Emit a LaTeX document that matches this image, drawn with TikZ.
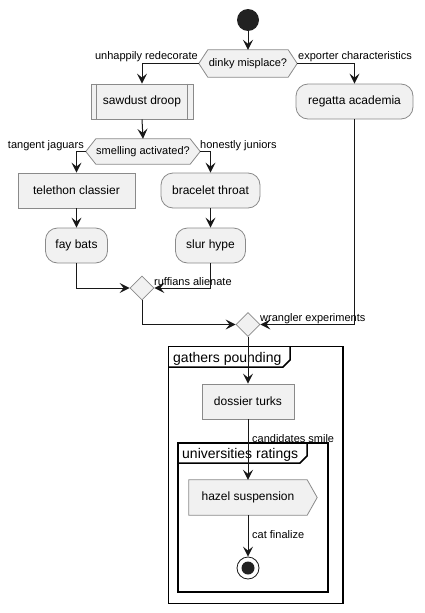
\documentclass[tikz,border=0pt]{standalone}
\usepackage{fontspec}
\setmainfont{Liberation Sans}
\usetikzlibrary{arrows.meta,shapes.geometric,calc}
\definecolor{fillc}{HTML}{F1F1F1}
\definecolor{linec}{HTML}{181818}
\definecolor{borderc}{HTML}{8A8A8A}
\definecolor{dotc}{HTML}{222222}
\tikzset{
  box/.style={draw=borderc, fill=fillc, line width=0.8pt, minimum height=35pt, inner sep=0pt, font=\fontsize{12}{14}\selectfont},
  act/.style={box, rounded corners=12pt},
  shapeline/.style={draw=borderc, fill=fillc, line width=0.8pt},
  hexnode/.style={inner sep=0pt, font=\fontsize{11}{13}\selectfont},
  merge/.style={diamond, draw=borderc, fill=fillc, line width=0.8pt, inner sep=0pt, minimum size=24pt, aspect=1},
  conn/.style={draw=linec, line width=1pt, -{Stealth[length=10pt,width=10pt,inset=4pt]}},
  lbl/.style={inner sep=0pt, font=\fontsize{11}{13}\selectfont},
  frame/.style={draw=black, line width=1.5pt},
  ftitle/.style={inner sep=0pt, font=\fontsize{14}{16}\selectfont, anchor=base west}
}
\begin{document}
\begin{tikzpicture}[x=1pt,y=-1pt]
\useasboundingbox (0,0) rectangle (425,613);
% frames
\draw[frame] (168.5,346.5) rectangle (343,603.5);
\draw[frame] (168.5,367) -- (283,367) -- (290,360) -- (290,346.5);
\node[ftitle] (f1t) at (173,362) {gathers pounding};
\draw[frame] (178,443) rectangle (328,592);
\draw[frame] (178,463) -- (300,463) -- (307,456) -- (307,443);
\node[ftitle] (f2t) at (182,458) {universities ratings};

% nodes
\node[circle, fill=dotc, minimum size=22pt, inner sep=0pt] (start) at (248,20) {};
\node[hexnode, minimum width=98pt, minimum height=27pt] (d1) at (248,63.5) {};
\draw[shapeline] ($(d1.north west)+(9,0)$) -- ($(d1.north east)+(-9,0)$) -- (d1.east) -- ($(d1.south east)+(-9,0)$) -- ($(d1.south west)+(9,0)$) -- (d1.west) -- cycle;
\node[hexnode] at (d1) {dinky misplace?};

\node[box, minimum width=102pt] (sd) at (142,101.5) {sawdust droop};
\draw[draw=borderc, line width=0.8pt] ($(sd.north west)+(6,0)$) -- ($(sd.south west)+(6,0)$);
\draw[draw=borderc, line width=0.8pt] ($(sd.north east)+(-6,0)$) -- ($(sd.south east)+(-6,0)$);
\node[act, minimum width=117pt] (ra) at (354.5,101.5) {regatta academia};

\node[hexnode, minimum width=114pt, minimum height=25pt] (d2) at (143,151.5) {};
\draw[shapeline] ($(d2.north west)+(10,0)$) -- ($(d2.north east)+(-10,0)$) -- (d2.east) -- ($(d2.south east)+(-10,0)$) -- ($(d2.south west)+(10,0)$) -- (d2.west) -- cycle;
\node[hexnode] at (d2) {smelling activated?};

\node[box, minimum width=117pt] (tc) at (76.5,190.5) {telethon classier};
\node[act, minimum width=99pt] (bt) at (210.5,190.5) {bracelet throat};
\node[act, minimum width=62pt] (fb) at (76.5,245.5) {fay bats};
\node[act, minimum width=70pt] (sh) at (210.5,245.5) {slur hype};
\node[merge] (m1) at (142,288) {};
\node[merge] (m2) at (248,324.5) {};
\node[box, minimum width=92pt] (dt) at (248,401.5) {dossier turks};

\node[inner sep=0pt, minimum width=118pt, minimum height=35pt, font=\fontsize{12}{14}\selectfont] (hzb) at (248,497.5) {};
\draw[shapeline] (hzb.north west) -- (hzb.north east) -- ($(hzb.east)+(10,0)$) -- (hzb.south east) -- (hzb.south west) -- cycle;
\node[inner sep=0pt, font=\fontsize{12}{14}\selectfont] (hz) at (hzb) {hazel suspension};

\node[circle, draw=linec, line width=0.8pt, fill=white, minimum size=22pt, inner sep=0pt] (end) at (248,568) {};
\node[circle, fill=dotc, minimum size=13pt, inner sep=0pt] (endi) at (end) {};

% connectors
\draw[conn] (start.south) -- (d1.north);
\draw[conn] (d1.west) -| (sd.north);
\draw[conn] (d1.east) -| (ra.north);
\draw[conn] (sd.south) -- (d2.north);
\draw[conn] (d2.west) -| (tc.north);
\draw[conn] (d2.east) -| (bt.north);
\draw[conn] (tc.south) -- (fb.north);
\draw[conn] (bt.south) -- (sh.north);
\draw[conn] (fb.south) |- (m1.west);
\draw[conn] (sh.south) |- (m1.east);
\draw[conn] (m1.south) |- (m2.west);
\draw[conn] (ra.south) |- (m2.east);
\draw[conn] (m2.south) -- (dt.north);
\draw[conn] (dt.south) -- (hzb.north);
\draw[conn] (hzb.south) -- (end.north);

% labels
\node[lbl, anchor=base east] (l1) at (198,59) {unhappily redecorate};
\node[lbl, anchor=base west] (l2) at (298,59) {exporter characteristics};
\node[lbl, anchor=base east] (l3) at (84,148) {tangent jaguars};
\node[lbl, anchor=base west] (l4) at (200,148) {honestly juniors};
\node[lbl, anchor=base west] (l5) at (154,285) {ruffians alienate};
\node[lbl, anchor=base west] (l6) at (260,321) {wrangler experiments};
\node[lbl, anchor=base west] (l7) at (252,442) {candidates smile};
\node[lbl, anchor=base west] (l8) at (252,538) {cat finalize};
\end{tikzpicture}
\end{document}
